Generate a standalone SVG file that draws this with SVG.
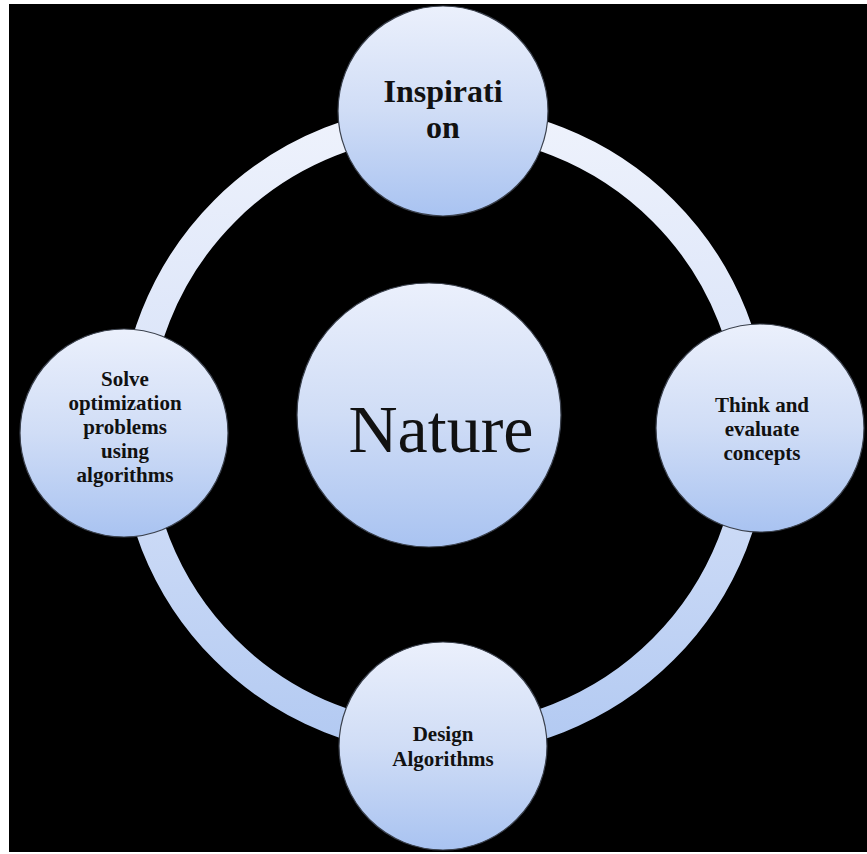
<svg xmlns="http://www.w3.org/2000/svg" width="867" height="854" viewBox="0 0 867 854">
<defs>
<linearGradient id="nodeGrad" x1="0" y1="0" x2="0" y2="1">
<stop offset="0" stop-color="#ebf0fc"/>
<stop offset="0.5" stop-color="#d0ddf6"/>
<stop offset="1" stop-color="#a9c3f1"/>
</linearGradient>
<linearGradient id="ringGrad" gradientUnits="userSpaceOnUse" x1="0" y1="120" x2="0" y2="740">
<stop offset="0" stop-color="#eef2fc"/>
<stop offset="0.5" stop-color="#d6e1f8"/>
<stop offset="1" stop-color="#b3caf2"/>
</linearGradient>
</defs>
<style>
.node { fill: url(#nodeGrad); stroke: #3a404c; stroke-width: 1.2; }
.ring { fill: none; stroke: url(#ringGrad); stroke-width: 30; }
.lbl { font-family: "Liberation Serif", "Times New Roman", serif; font-weight: bold; fill: #111; text-anchor: middle; }
.big { font-family: "Liberation Serif", "Times New Roman", serif; fill: #111; text-anchor: middle; font-size: 68px; }
</style>
<rect x="0" y="0" width="867" height="854" fill="#ffffff"/>
<rect x="9" y="4" width="858" height="848" fill="#000000"/>
<g id="connectors">
<path class="ring" d="M 444 120 A 310 310 0 0 1 754 430"/>
<path class="ring" d="M 754 430 A 310 310 0 0 1 444 740"/>
<path class="ring" d="M 444 740 A 310 310 0 0 1 134 430"/>
<path class="ring" d="M 134 430 A 310 310 0 0 1 444 120"/>
</g>
<g id="node-nature">
<circle class="node" cx="429" cy="415" r="132"/>
<text class="big" x="441" y="452">Nature</text>
</g>
<g id="node-inspiration">
<circle class="node" cx="443" cy="111" r="105"/>
<text class="lbl" x="443" y="102" font-size="32">Inspirati</text>
<text class="lbl" x="443" y="138" font-size="32">on</text>
</g>
<g id="node-think">
<circle class="node" cx="760" cy="428" r="104"/>
<text class="lbl" x="762" y="412" font-size="21">Think and</text>
<text class="lbl" x="762" y="436" font-size="21">evaluate</text>
<text class="lbl" x="762" y="460" font-size="21">concepts</text>
</g>
<g id="node-design">
<circle class="node" cx="443" cy="746" r="104"/>
<text class="lbl" x="443" y="741" font-size="21">Design</text>
<text class="lbl" x="443" y="766" font-size="21">Algorithms</text>
</g>
<g id="node-solve">
<circle class="node" cx="124" cy="433" r="104"/>
<text class="lbl" x="125" y="386" font-size="21">Solve</text>
<text class="lbl" x="125" y="410" font-size="21">optimization</text>
<text class="lbl" x="125" y="434" font-size="21">problems</text>
<text class="lbl" x="125" y="458" font-size="21">using</text>
<text class="lbl" x="125" y="482" font-size="21">algorithms</text>
</g>
</svg>
